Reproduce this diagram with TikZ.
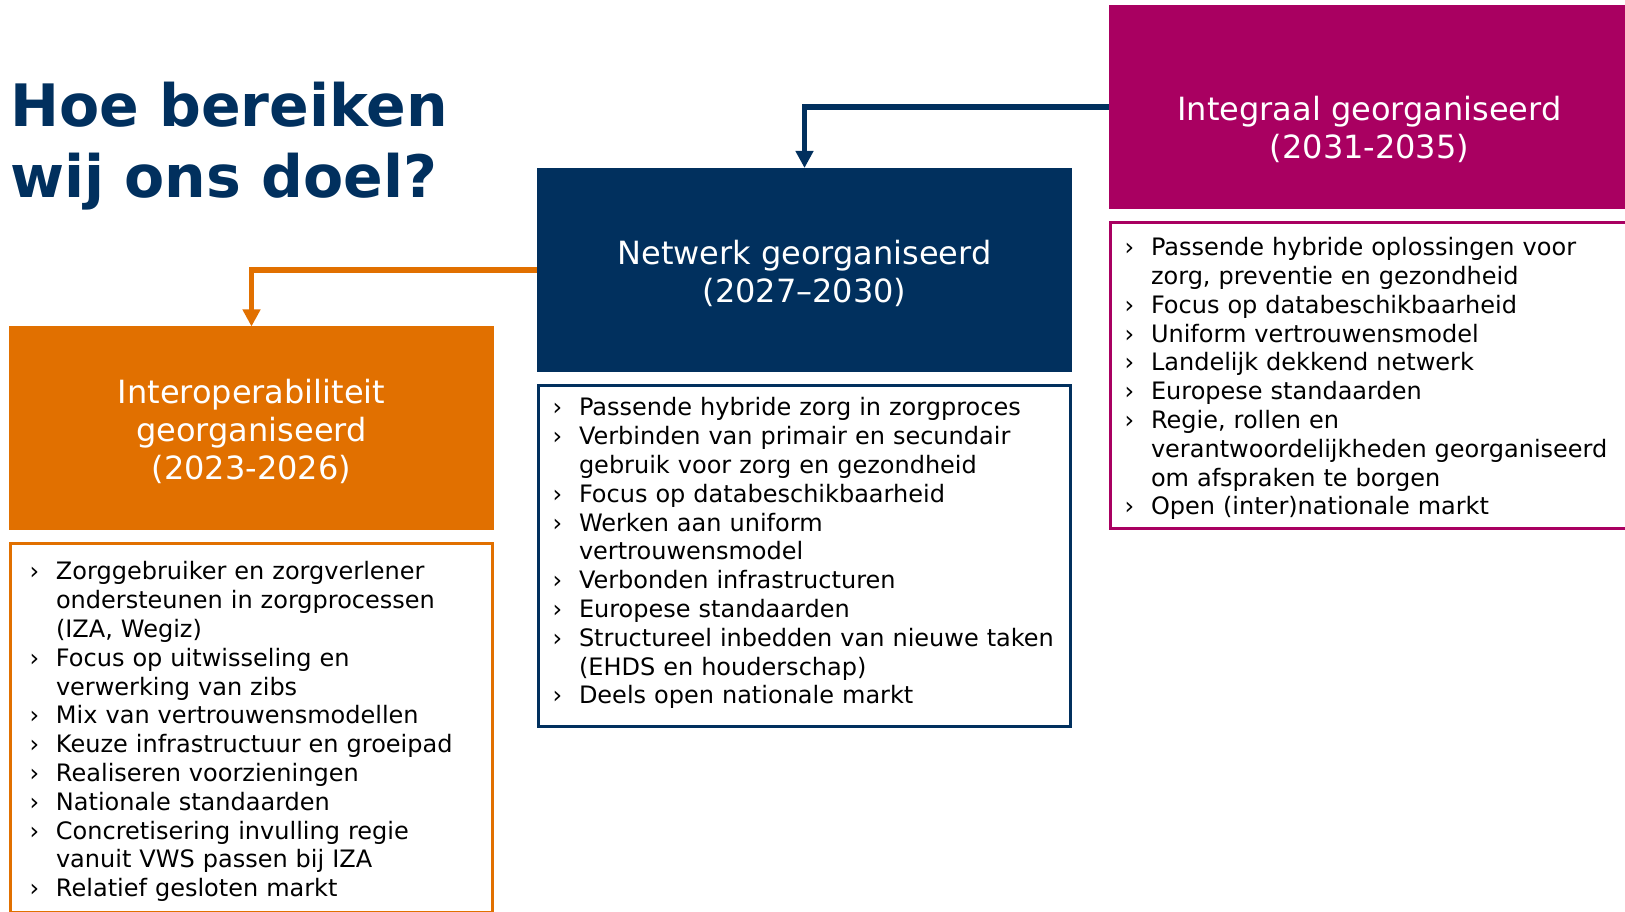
\documentclass[tikz,border=0pt]{standalone}
\usepackage{fontspec}
\setmainfont{DejaVu Sans}
\usepackage{tikz}
\usetikzlibrary{positioning,arrows.meta}
\usepackage{xcolor}
\definecolor{darkBlue}{RGB}{1,48,94}
\definecolor{rvOrange}{RGB}{225,112,0}
\definecolor{rvViolet}{RGB}{169,0,97}

% one bullet line with hanging indent
\newcommand{\itm}{\par\noindent\hangindent=28.5pt\hangafter=1\makebox[28.5pt][l]{\hspace{2pt}›}}

\begin{document}
\begin{tikzpicture}[x=1pt,y=1pt,
    head/.style={rectangle,inner sep=0pt,outer sep=0pt,minimum height=204pt,text=white,align=center,font=\fontsize{32}{38}\selectfont},
    headtext/.style={inner sep=0pt,text=white,align=center,font=\fontsize{32}{38}\selectfont},
    itemlist/.style={rectangle,draw,line width=3pt,inner xsep=12pt,inner ysep=0pt,align=left,font=\fontsize{24}{28.8}\selectfont},
    flow/.style={line width=5.5pt,-{Triangle[width=17pt,length=17pt]}}]
    \clip (0,0) rectangle (1625,912);

    \node[anchor=north west,inner sep=0pt,align=left,text=darkBlue,font=\fontsize{58.5}{71}\selectfont\bfseries] (title) at (10,830) {Hoe bereiken\\wij ons doel?};

    % Phase headers
    \node[head,fill=rvOrange,minimum width=485pt] (interop) at (251.5,483.5) {};
    \node[headtext] (interoptext) at ([yshift=-3pt]interop.center) {Interoperabiliteit\\georganiseerd\\(2023-2026)};
    \node[head,fill=darkBlue,minimum width=535pt] (netwerk) at (804.5,642) {};
    \node[headtext] (netwerktext) at ([yshift=-3pt]netwerk.center) {Netwerk georganiseerd\\(2027–2030)};
    \node[head,fill=rvViolet,minimum width=521pt] (integraal) at (1369.5,805) {};
    \node[headtext] (integraaltext) at ([yshift=-22pt]integraal.center) {Integraal georganiseerd\\(2031-2035)};

    % Lists under the headers
    \node[itemlist,draw=rvOrange,below=12pt of interop,minimum width=482pt,minimum height=369pt,inner xsep=17pt,text width=448pt] (interoplist) {%
        \itm Zorggebruiker en zorgverlener\newline ondersteunen in zorgprocessen\newline (IZA, Wegiz)
        \itm Focus op uitwisseling en\newline verwerking van zibs
        \itm Mix van vertrouwensmodellen
        \itm Keuze infrastructuur en groeipad
        \itm Realiseren voorzieningen
        \itm Nationale standaarden
        \itm Concretisering invulling regie\newline vanuit VWS passen bij IZA
        \itm Relatief gesloten markt\rule[-9pt]{0pt}{9pt}};
    \node[itemlist,draw=darkBlue,below=12pt of netwerk,minimum width=532pt,minimum height=341pt,text width=508pt] (netwerklist) {%
        \itm Passende hybride zorg in zorgproces
        \itm Verbinden van primair en secundair\newline gebruik voor zorg en gezondheid
        \itm Focus op databeschikbaarheid
        \itm Werken aan uniform\newline vertrouwensmodel
        \itm Verbonden infrastructuren
        \itm Europese standaarden
        \itm Structureel inbedden van nieuwe taken\newline (EHDS en houderschap)
        \itm Deels open nationale markt\rule[-21pt]{0pt}{21pt}};
    \node[itemlist,draw=rvViolet,below=12pt of integraal,minimum width=518pt,minimum height=306pt,text width=494pt] (integraallist) {%
        \itm Passende hybride oplossingen voor\newline zorg, preventie en gezondheid
        \itm Focus op databeschikbaarheid
        \itm Uniform vertrouwensmodel
        \itm Landelijk dekkend netwerk
        \itm Europese standaarden
        \itm Regie, rollen en\newline verantwoordelijkheden georganiseerd\newline om afspraken te borgen
        \itm Open (inter)nationale markt\rule[-9pt]{0pt}{9pt}};

    % Connections
    \draw[flow,rvOrange] (netwerk.west) -| (interop.north);
    \draw[flow,darkBlue] (integraal.west) -| (netwerk.north);
\end{tikzpicture}
\end{document}
